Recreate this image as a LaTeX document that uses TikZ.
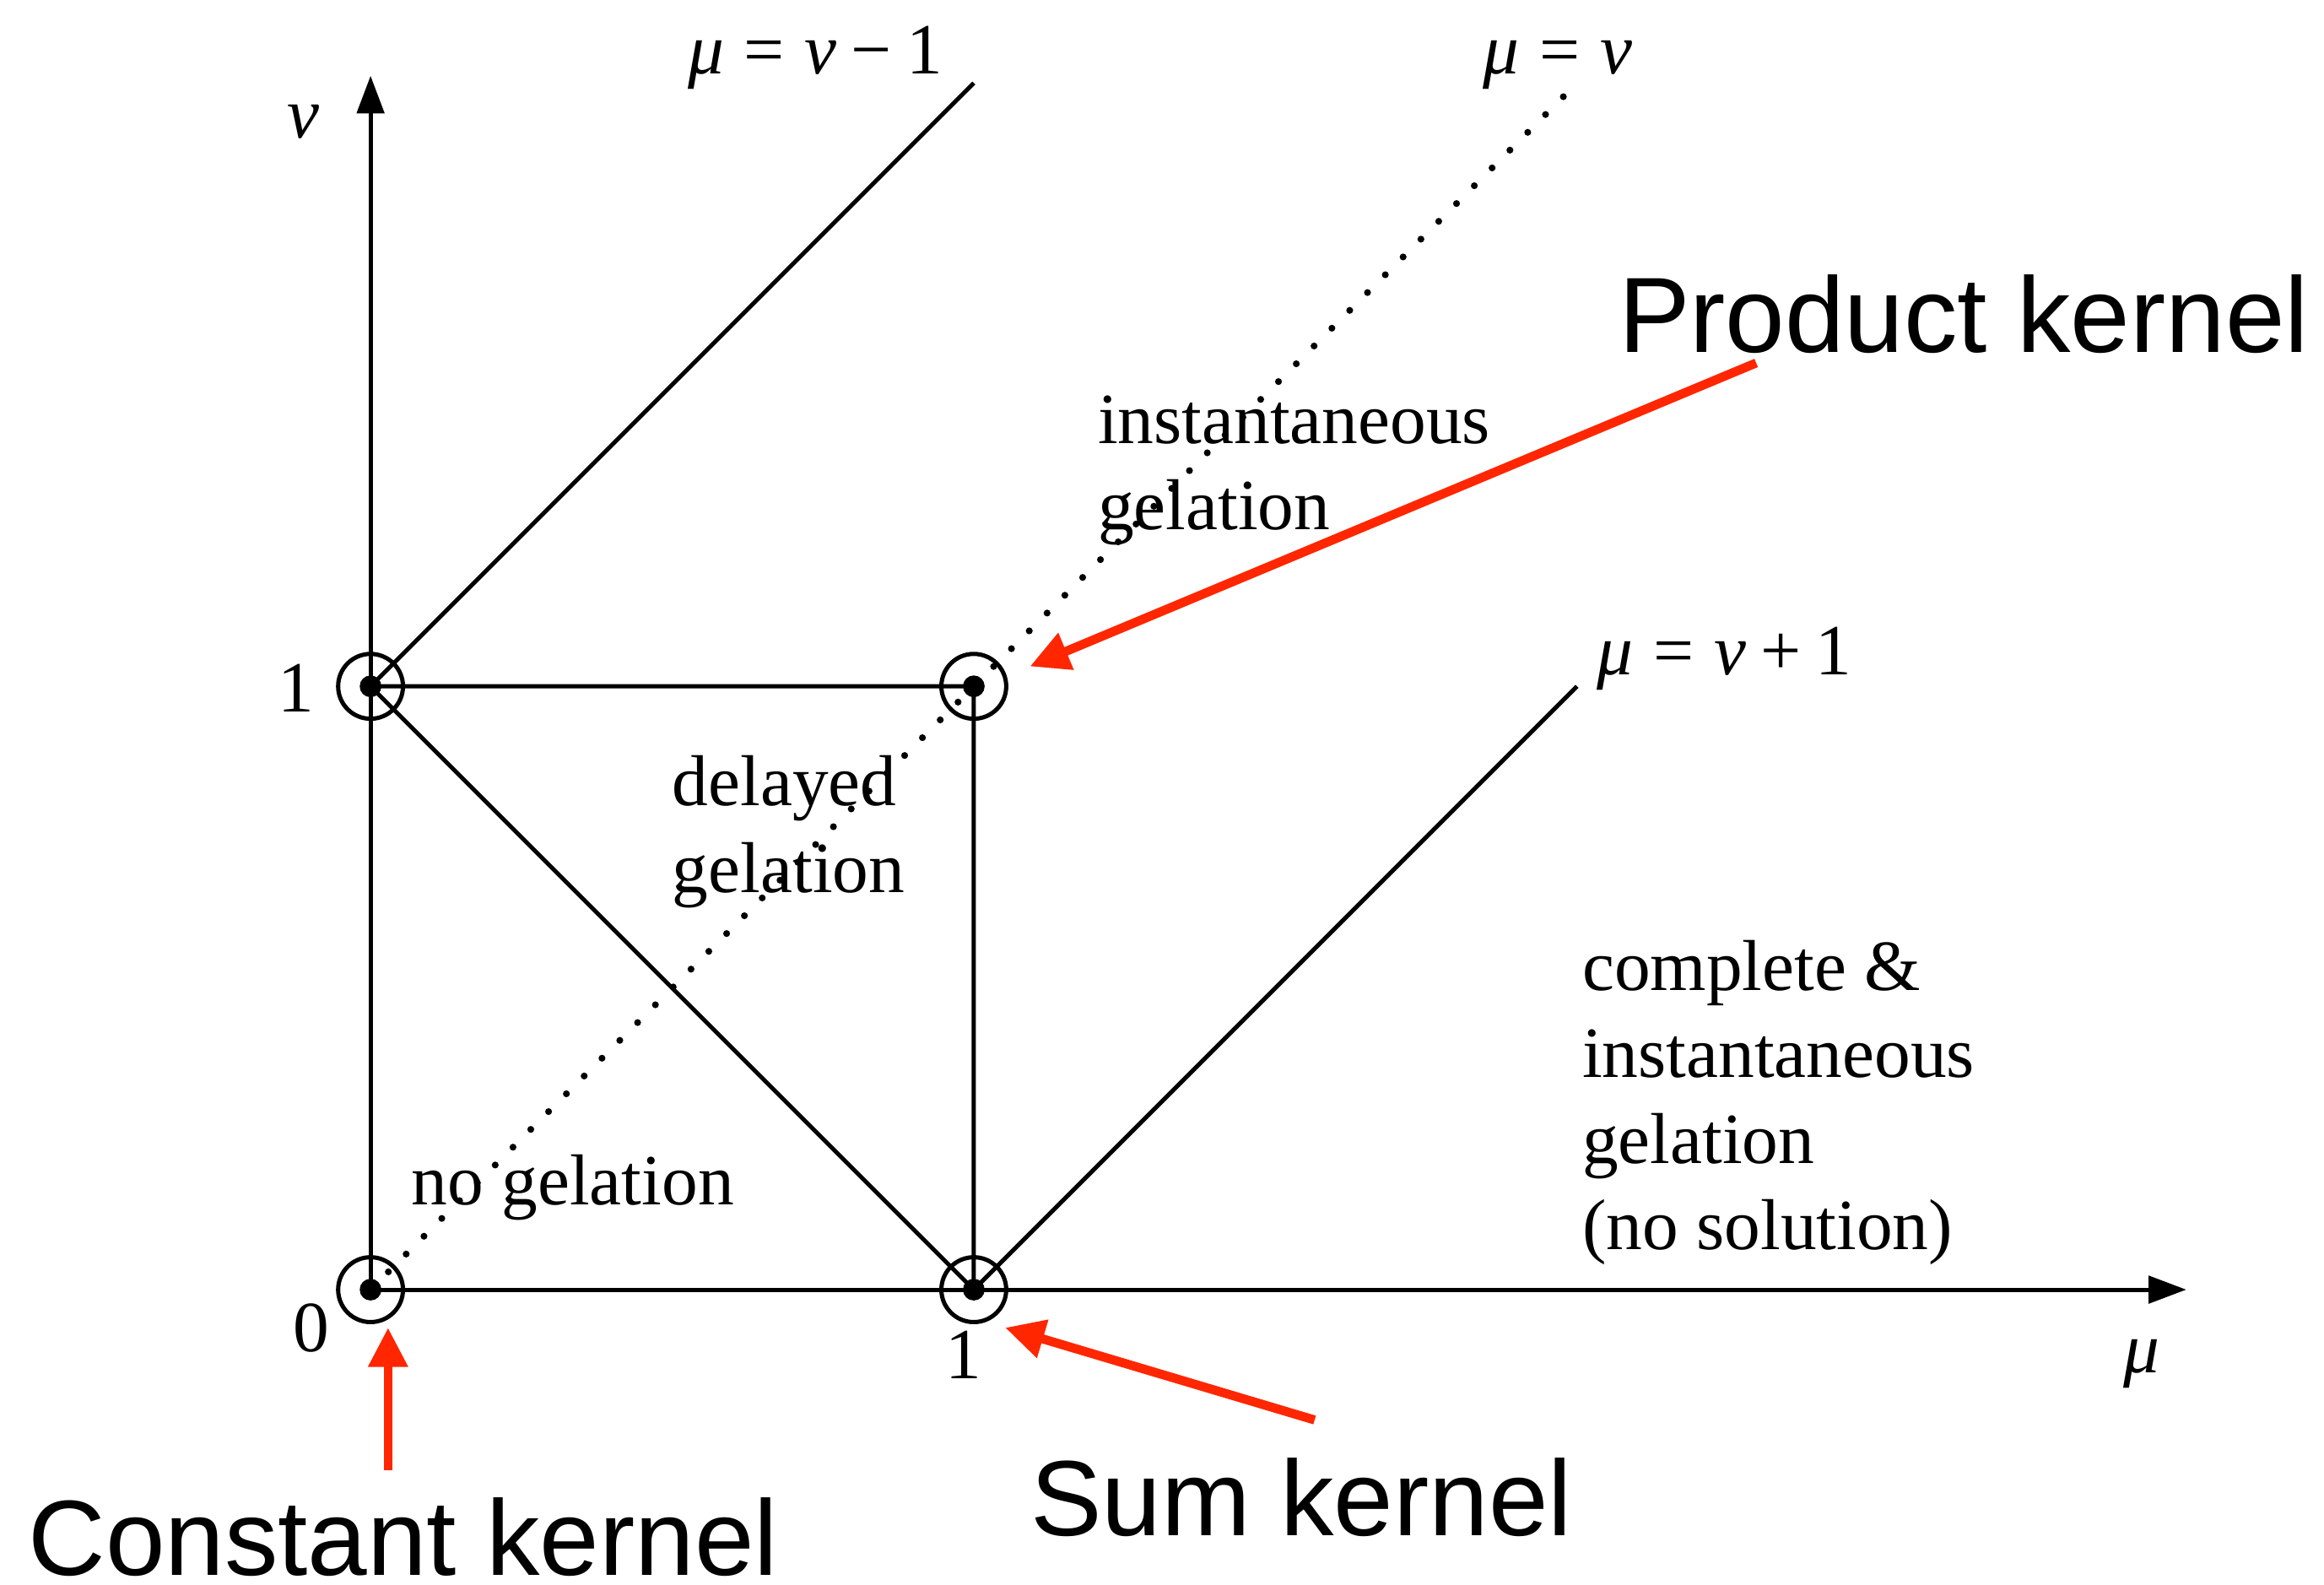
\documentclass[tikz,border=0pt]{standalone}
\usepackage{fontspec}
\setmainfont{Liberation Serif}
\newfontfamily\kernfont{Liberation Sans}
\usetikzlibrary{arrows.meta}
\definecolor{kernred}{RGB}{255,38,0}

\begin{document}
\begin{tikzpicture}[x=4cm, y=4cm,
    eix/.style={line width=0.8pt, -{Triangle[length=2.5mm, width=1.8mm]}},
    linia/.style={line width=0.8pt},
    punts/.style={line width=1.3pt, line cap=round, dash pattern=on 0pt off 4.75pt},
    regio/.style={align=left, inner sep=0pt, anchor=west, font=\fontsize{13.6}{16.3}\selectfont},
    etiq/.style={inner sep=0pt, font=\fontsize{13.6}{16.3}\selectfont},
    nucli/.style={inner sep=0pt, text=black, font=\kernfont\fontsize{20.2}{24}\selectfont},
    fletxa/.style={draw=kernred, line width=1.7pt, -{Triangle[length=2.6mm, width=2.5mm]}},
    cercle/.style={circle, draw, line width=0.8pt, minimum size=4.3mm, inner sep=0pt}]
    \useasboundingbox (-0.6143,-0.4889) rectangle (3.2383,2.1376);

    % Punts del diagrama
    \node[cercle] (p00) at (0,0) {};
    \node[cercle] (p10) at (1,0) {};
    \node[cercle] (p01) at (0,1) {};
    \node[cercle] (p11) at (1,1) {};
    \coordinate (xtip) at (3.01,0);
    \coordinate (ytip) at (0,2.012);
    \coordinate (dalt) at (1,2.0);
    \coordinate (diag) at (1.99,1.99);
    \coordinate (dreta) at (2,1);

    % Eixos
    \draw[eix] (p00.center) -- (xtip);
    \draw[eix] (p00.center) -- (ytip);
    \node[etiq] (nu) at (-0.111,1.936) {\textit{ν}};
    \node[etiq] (mu) at (2.936,-0.123) {\textit{μ}};
    \node[etiq, anchor=base] (u0) at (-0.123,0.958) {1};
    \node[etiq, anchor=base] (z0) at (-0.098,-0.103) {0};
    \node[etiq, anchor=base] (u1) at (0.983,-0.147) {1};

    % Fronteres
    \draw[linia] (p01.center) -- (p11.center) -- (p10.center) -- (p01.center);
    \draw[linia] (p01.center) -- (dalt);
    \draw[linia] (p10.center) -- (dreta);
    \draw[punts] (p00.center) -- (diag);

    % Rectes
    \node[etiq, anchor=base] (rmenys) at (0.737,2.015) {\textit{μ}\kern.28em=\kern.28em\textit{ν}\kern.2em−\kern.2em1};
    \node[etiq, anchor=base] (riguals) at (1.968,2.015) {\textit{μ}\kern.28em=\kern.28em\textit{ν}};
    \node[etiq, anchor=base] (rmes) at (2.244,1.0197) {\textit{μ}\kern.28em=\kern.28em\textit{ν}\kern.2em+\kern.2em1};

    % Regions
    \node[regio] (inst) at (1.204,1.3575) {instantaneous\\gelation};
    \node[regio] (retard) at (0.4988,0.759) {delayed\\gelation};
    \node[regio] (cap) at (0.0663,0.1695) {no gelation};
    \node[regio] (compl) at (2.007,0.3096) {complete \&\\instantaneous\\gelation\\(no solution)};

    % Centres dels punts
    \foreach \p in {p00,p10,p01,p11}
        \fill (\p.center) circle[radius=0.72mm];

    % Nuclis
    \node[nucli] (prod) at (2.641,1.617) {Product kernel};
    \node[nucli] (suma) at (1.543,-0.344) {Sum kernel};
    \node[nucli] (const) at (0.054,-0.41) {Constant kernel};
    \coordinate (prodcua) at (2.297,1.536);
    \coordinate (prodpunta) at (1.093,1.033);
    \coordinate (sumacua) at (1.565,-0.216);
    \coordinate (sumapunta) at (1.052,-0.063);
    \coordinate (constcua) at (0.029,-0.299);
    \coordinate (constpunta) at (0.029,-0.063);
    \draw[fletxa] (prodcua) -- (prodpunta);
    \draw[fletxa] (sumacua) -- (sumapunta);
    \draw[fletxa] (constcua) -- (constpunta);
\end{tikzpicture}
\end{document}
